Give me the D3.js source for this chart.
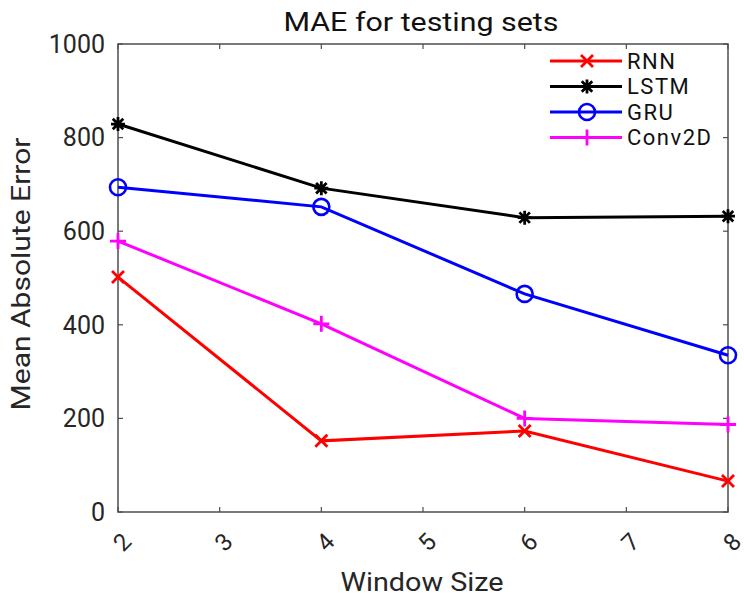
<!DOCTYPE html>
<html>
<head>
<meta charset="utf-8">
<script src="https://cdn.jsdelivr.net/npm/d3@7"></script>
<style>
  body { margin: 0; background: #fff; }
  svg { font-family: Roboto, "Noto Sans", sans-serif; }
</style>
</head>
<body>
<div id="chart"></div>
<script>
var windowSizes = [2, 4, 6, 8];
var xTicks = [2, 3, 4, 5, 6, 7, 8];
var yTicks = [0, 200, 400, 600, 800, 1000];
var seriesNames = ["RNN", "LSTM", "GRU", "Conv2D"];
var rnnValues = [502, 152, 173, 66];
var lstmValues = [829, 692, 629, 632];
var gruValues = [694, 652, 466, 335];
var conv2dValues = [579, 402, 200, 187];

var series = [
  { name: seriesNames[0], values: rnnValues, color: "#ff0000", marker: "x" },
  { name: seriesNames[1], values: lstmValues, color: "#000000", marker: "star" },
  { name: seriesNames[2], values: gruValues, color: "#0000ff", marker: "circle" },
  { name: seriesNames[3], values: conv2dValues, color: "#ff00ff", marker: "plus" }
];

var W = 744, H = 596;
var margin = { top: 44, right: 16, bottom: 84, left: 118 };
var width = W - margin.left - margin.right,
    height = H - margin.top - margin.bottom;

var svg = d3.select("#chart").append("svg")
    .attr("width", W)
    .attr("height", H);

var g = svg.append("g")
    .attr("transform", "translate(" + margin.left + "," + margin.top + ")");

var x = d3.scaleLinear().domain([2, 8]).range([0, width]);
var y = d3.scaleLinear().domain([0, 1000]).range([height, 0]);

var axisColor = "#4d4d4d";
var tickColor = "#262626";

// box
g.append("rect")
    .attr("width", width).attr("height", height)
    .attr("fill", "none").attr("stroke", axisColor).attr("stroke-width", 1.5);

// inner ticks on all four sides
xTicks.forEach(function(t) {
  g.append("line").attr("x1", x(t)).attr("x2", x(t)).attr("y1", height).attr("y2", height - 5)
    .attr("stroke", axisColor).attr("stroke-width", 1.2);
  g.append("line").attr("x1", x(t)).attr("x2", x(t)).attr("y1", 0).attr("y2", 5)
    .attr("stroke", axisColor).attr("stroke-width", 1.2);
  g.append("text")
    .attr("transform", "translate(" + (x(t) + 4) + "," + (height + 30) + ") rotate(-45)")
    .attr("text-anchor", "middle")
    .attr("dy", "0.35em")
    .attr("font-size", 24)
    .attr("fill", tickColor)
    .text(t);
});

yTicks.forEach(function(t) {
  g.append("line").attr("x1", 0).attr("x2", 5).attr("y1", y(t)).attr("y2", y(t))
    .attr("stroke", axisColor).attr("stroke-width", 1.2);
  g.append("line").attr("x1", width).attr("x2", width - 5).attr("y1", y(t)).attr("y2", y(t))
    .attr("stroke", axisColor).attr("stroke-width", 1.2);
  g.append("text")
    .attr("x", -13).attr("y", y(t))
    .attr("dy", "0.35em")
    .attr("text-anchor", "end")
    .attr("font-size", 25)
    .attr("fill", tickColor)
    .text(t);
});

// marker shapes
function drawMarker(sel, type, color, cx, cy) {
  var s = 6;
  var m = sel.append("g").attr("transform", "translate(" + cx + "," + cy + ")")
      .attr("stroke", color).attr("fill", "none").attr("stroke-width", 2.8);
  if (type === "x") {
    m.append("path").attr("d", "M" + -s + "," + -s + "L" + s + "," + s + "M" + -s + "," + s + "L" + s + "," + -s);
  } else if (type === "plus") {
    m.append("path").attr("d", "M" + (-s - 2) + ",0L" + (s + 2) + ",0M0," + (-s - 2) + "L0," + (s + 2));
  } else if (type === "circle") {
    m.append("circle").attr("r", 8).attr("stroke-width", 2.6);
  } else if (type === "star") {
    var r = 7, d = r * 0.75;
    m.attr("stroke-width", 2.8);
    m.append("path").attr("d", "M" + -r + ",0L" + r + ",0M0," + -r + "L0," + r +
      "M" + -d + "," + -d + "L" + d + "," + d +
      "M" + -d + "," + d + "L" + d + "," + -d);
  }
}

var line = d3.line()
    .x(function(d, i) { return x(windowSizes[i]); })
    .y(function(d) { return y(d); });

series.forEach(function(s) {
  g.append("path")
    .datum(s.values)
    .attr("fill", "none")
    .attr("stroke", s.color)
    .attr("stroke-width", 3)
    .attr("d", line);
  s.values.forEach(function(v, i) {
    drawMarker(g, s.marker, s.color, x(windowSizes[i]), y(v));
  });
});

// legend
var legend = g.append("g").attr("transform", "translate(" + (550 - margin.left) + "," + (61 - margin.top) + ")");
series.forEach(function(s, i) {
  var row = legend.append("g").attr("transform", "translate(0," + (i * 25.5) + ")");
  row.append("line").attr("x1", 0).attr("x2", 72).attr("y1", 0).attr("y2", 0)
    .attr("stroke", s.color).attr("stroke-width", 3);
  drawMarker(row, s.marker, s.color, 37, 0);
  row.append("text")
    .attr("x", 77).attr("y", 0).attr("dy", "0.36em")
    .attr("font-size", 22)
    .attr("letter-spacing", 1.5)
    .attr("fill", "#111")
    .text(s.name);
});

// title and axis labels
svg.append("text")
    .attr("x", 421).attr("y", 31)
    .attr("text-anchor", "middle")
    .attr("font-size", 26)
    .attr("textLength", 275)
    .attr("lengthAdjust", "spacingAndGlyphs")
    .attr("fill", "#111")
    .text("MAE for testing sets");

svg.append("text")
    .attr("x", 422).attr("y", 591)
    .attr("text-anchor", "middle")
    .attr("font-size", 25)
    .attr("textLength", 163)
    .attr("lengthAdjust", "spacingAndGlyphs")
    .attr("fill", "#262626")
    .text("Window Size");

svg.append("text")
    .attr("transform", "translate(30,274) rotate(-90)")
    .attr("text-anchor", "middle")
    .attr("font-size", 25)
    .attr("textLength", 273)
    .attr("lengthAdjust", "spacingAndGlyphs")
    .attr("fill", "#262626")
    .text("Mean Absolute Error");
</script>
</body>
</html>
